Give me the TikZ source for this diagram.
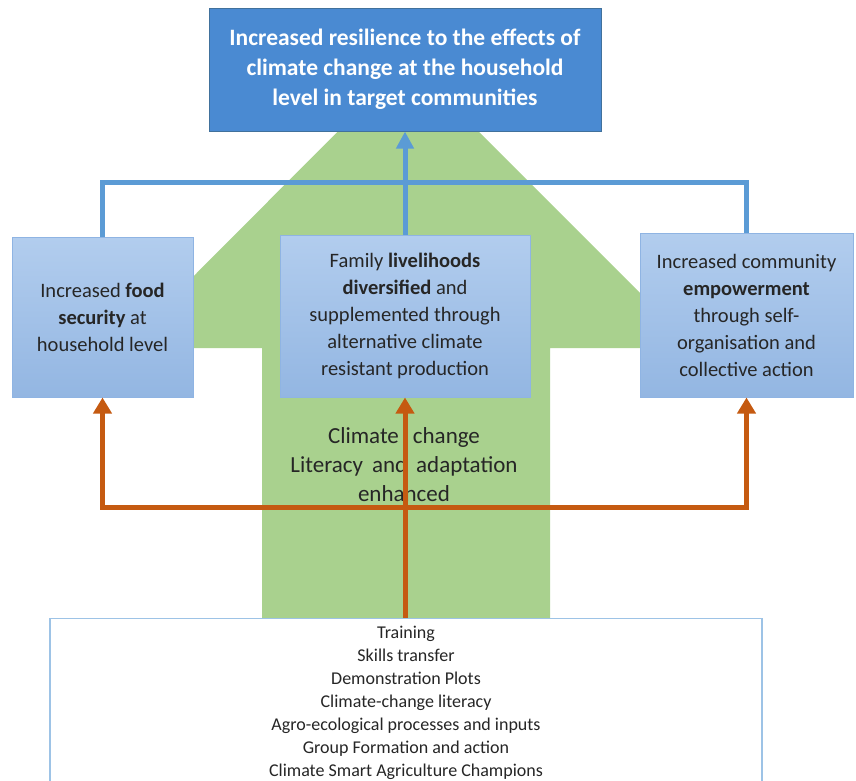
\documentclass[tikz,border=0pt]{standalone}
\usepackage{fontspec}
\setmainfont{Carlito}
\usetikzlibrary{arrows.meta}
\definecolor{gfill}{HTML}{A9D18E}
\definecolor{topfill}{HTML}{4A8AD2}
\definecolor{topdraw}{HTML}{41719C}
\definecolor{boxtop}{HTML}{B2CDEE}
\definecolor{boxbot}{HTML}{93B6E2}
\definecolor{boxdraw}{HTML}{8FB4E3}
\definecolor{bline}{HTML}{5B9BD5}
\definecolor{oline}{HTML}{C55A11}
\definecolor{botdraw}{HTML}{9DC3E6}
\tikzset{
  outbox/.style={draw=boxdraw, line width=1pt, top color=boxtop, bottom color=boxbot,
    inner sep=0pt, align=center, font=\fontsize{20.5}{27}\selectfont, text=black!85},
  blueline/.style={draw=bline, line width=5pt},
  orangeline/.style={draw=oline, line width=5pt},
  bluearrow/.style={blueline, -{Triangle[width=17pt,length=17pt]}},
  orangearrow/.style={orangeline, -{Triangle[width=18pt,length=16pt]}},
}
\begin{document}
\begin{tikzpicture}[x=1pt,y=-1pt]
\useasboundingbox (0,0) rectangle (856,780);
\clip (0,0) rectangle (856,780);
% big green arrow
\fill[gfill] (262,618) -- (262,348) -- (122,348) -- (408,61) -- (695,348) -- (550,348) -- (550,618) -- cycle;
% goal box
\node[draw=topdraw, line width=1pt, fill=topfill, minimum width=392pt, minimum height=123pt, inner sep=0pt,
  align=center, text=white, font=\bfseries\fontsize{23.5}{30}\selectfont] (goal) at (405,69.5)
  {Increased resilience to the effects of\\climate change at the household\\level in target communities};
% outcome boxes
\node[outbox, minimum width=181pt, minimum height=160pt] (food) at (102.5,317)
  {Increased \textbf{food}\\\textbf{security} at\\household level};
\node[outbox, minimum width=250pt, minimum height=162pt] (liveli) at (405,316)
  {Family \textbf{livelihoods}\\\textbf{diversified} and\\supplemented through\\alternative climate\\resistant production};
\node[outbox, minimum width=213pt, minimum height=164pt] (empower) at (746.5,315)
  {Increased community\\\textbf{empowerment}\\through self-\\organisation and\\collective action};
% green label
\node[align=center, font=\fontsize{23}{29}\selectfont, text=black!85] (lit) at (404,465)
  {Climate\hspace{14pt}change\\Literacy\hspace{9pt}and\hspace{9pt}adaptation\\enhanced};
% activities box
\node[draw=botdraw, line width=1.2pt, fill=white, anchor=north, minimum width=712pt, minimum height=175pt,
  inner sep=0pt, align=center, font=\fontsize{18}{23}\selectfont, text=black!85] (act) at (406,618)
  {\rule{0pt}{20pt}Training\\Skills transfer\\Demonstration Plots\\Climate-change literacy\\Agro-ecological processes and inputs\\Group Formation and action\\Climate Smart Agriculture Champions\\[12pt]};
% blue connectors
\coordinate (bj) at (405,182);
\draw[blueline] (food.north) |- (bj);
\draw[blueline] (empower.north) |- (bj);
\draw[bluearrow] (liveli.north) -- (goal.south);
% orange connectors
\coordinate (oj) at (405,507);
\draw[orangearrow] (act.north -| liveli.south) -- (liveli.south);
\draw[orangearrow] (oj) -| (food.south);
\draw[orangearrow] (oj) -| (empower.south);
\end{tikzpicture}
\end{document}
